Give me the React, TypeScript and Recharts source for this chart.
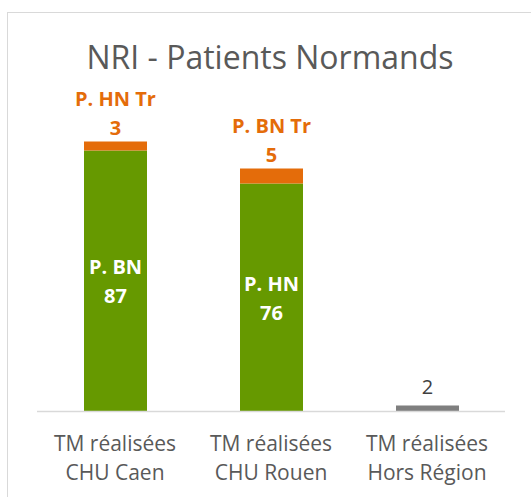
import React from "react";
import { BarChart, Bar, XAxis, YAxis, LabelList } from "recharts";

// catégories (2 lignes)
const catLine1 = ["TM réalisées", "TM réalisées", "TM réalisées"];
const catLine2 = ["CHU Caen", "CHU Rouen", "Hors Région"];

// patients locaux (vert)
const localValues = [87, 76, 0];
const localLabels = ["P. BN", "P. HN", ""];

// patients transférés (orange)
const transferValues = [3, 5, 0];
const transferLabels = ["P. HN Tr", "P. BN Tr", ""];

// hors région (gris)
const horsValues = [0, 0, 2];

const data = catLine2.map((name, i) => ({
  name,
  local: localValues[i],
  transfer: transferValues[i],
  hors: horsValues[i],
  localLabel: localLabels[i],
  transferLabel: transferLabels[i],
}));

const FONT = "'Open Sans', 'Noto Sans', sans-serif";
const GREEN = "#669900";
const ORANGE = "#e46c0a";
const GREY = "#7f7f7f";

const CategoryTick = (props: any) => {
  const { x, y, payload } = props;
  const i = catLine2.indexOf(payload.value);
  return (
    <g>
      <text x={x} y={y + 39.5} textAnchor="middle" fill="#595959" fontSize={21} fontFamily={FONT}>
        {catLine1[i]}
      </text>
      <text x={x} y={y + 68.5} textAnchor="middle" fill="#595959" fontSize={21} fontFamily={FONT}>
        {catLine2[i]}
      </text>
    </g>
  );
};

const LocalLabel = (props: any) => {
  const { x, y, width, height, value } = props;
  if (!value) return null;
  const i = localValues.indexOf(value);
  const cx = x + width / 2;
  const cy = y + height / 2;
  return (
    <g fontFamily={FONT} fontWeight="bold" fontSize={20} fill="#ffffff" textAnchor="middle">
      <text x={cx} y={cy - 7}>{localLabels[i]}</text>
      <text x={cx} y={cy + 22}>{value}</text>
    </g>
  );
};

const TransferLabel = (props: any) => {
  const { x, y, width, value } = props;
  if (!value) return null;
  const i = transferValues.indexOf(value);
  const cx = x + width / 2;
  return (
    <g fontFamily={FONT} fontWeight="bold" fontSize={20} fill={ORANGE} textAnchor="middle">
      <text x={cx} y={y - 36}>{transferLabels[i]}</text>
      <text x={cx} y={y - 7}>{value}</text>
    </g>
  );
};

const HorsLabel = (props: any) => {
  const { x, y, width, value } = props;
  if (!value) return null;
  return (
    <text x={x + width / 2} y={y - 12} fontFamily={FONT} fontSize={20} fill="#404040" textAnchor="middle">
      {value}
    </text>
  );
};

export default function App() {
  return (
    <div style={{ position: "absolute", left: 0, top: 0, width: 531, height: 497, background: "#fff", overflow: "hidden" }}>
      <div
        style={{
          position: "absolute",
          left: 7,
          top: 12,
          width: 560,
          height: 520,
          border: "1px solid #d9d9d9",
        }}
      />
      <svg style={{ position: "absolute", left: 0, top: 0 }} width={531} height={80}>
        <text x={270} y={69} textAnchor="middle" fill="#595959" fontSize={32} fontFamily={FONT}>
          NRI - Patients Normands
        </text>
      </svg>
      <div style={{ position: "absolute", left: 0, top: 0 }}>
        <BarChart
          width={531}
          height={497}
          data={data}
          margin={{ top: 111.5, right: 26, bottom: 0, left: 37 }}
          barSize={63}
        >
          <XAxis
            dataKey="name"
            height={85.5}
            axisLine={{ stroke: "#d9d9d9", strokeWidth: 1.5 }}
            tickLine={false}
            tickSize={0}
            tickMargin={0}
            interval={0}
            tick={<CategoryTick />}
          />
          <YAxis hide domain={[0, 100]} width={0} />
          <Bar dataKey="local" stackId="a" fill={GREEN} isAnimationActive={false}>
            <LabelList dataKey="local" content={<LocalLabel />} />
          </Bar>
          <Bar dataKey="transfer" stackId="a" fill={ORANGE} isAnimationActive={false}>
            <LabelList dataKey="transfer" content={<TransferLabel />} />
          </Bar>
          <Bar dataKey="hors" stackId="a" fill={GREY} isAnimationActive={false}>
            <LabelList dataKey="hors" content={<HorsLabel />} />
          </Bar>
        </BarChart>
      </div>
    </div>
  );
}
